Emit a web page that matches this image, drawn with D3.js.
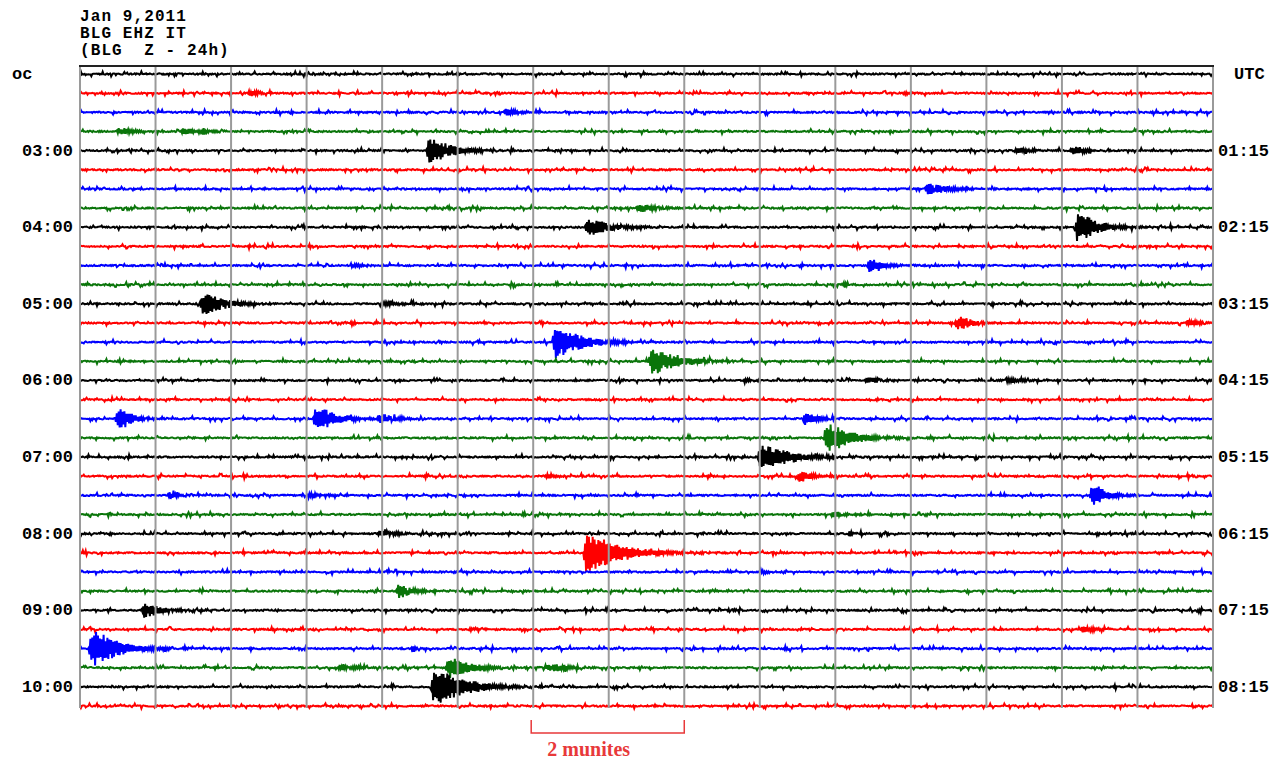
<!DOCTYPE html>
<html>
<head>
<meta charset="utf-8">
<script src="https://cdn.jsdelivr.net/npm/d3@7/dist/d3.min.js"></script>
<style>
  body { margin: 0; background: #fff; }
  .hdr { font-family: "Liberation Mono", monospace; font-weight: bold; font-size: 16px; letter-spacing: 1.1px; }
  .tlabel { font-family: "Liberation Mono", monospace; font-weight: bold; font-size: 17px; }
</style>
</head>
<body>
<div id="chart"></div>
<script>
// ---- data ----
const headerLines = ['Jan 9,2011', 'BLG EHZ IT', '(BLG  Z - 24h)'];
const traceColors = ['#000000', '#ff0000', '#0000ff', '#0a750a'];
const rowCount = 34;            // 15-minute lines
const minutesPerRow = 15;
const labelRows = [4, 8, 12, 16, 20, 24, 28, 32];
const localTimes = ['03:00', '04:00', '05:00', '06:00', '07:00', '08:00', '09:00', '10:00'];
const utcTimes = ['01:15', '02:15', '03:15', '04:15', '05:15', '06:15', '07:15', '08:15'];

// [row, start minute, peak amplitude (px), decay minutes]
const events = [
  [0, 4.98, 2, 0.08],
  [1, 2.22, 3, 0.15], [1, 10.9, 2, 0.08],
  [2, 5.62, 3, 0.2],
  [3, 0.5, 4, 0.2], [3, 1.35, 3, 0.25],
  [4, 4.6, 13, 0.3], [4, 12.38, 3, 0.2], [4, 13.12, 4, 0.2],
  [6, 11.2, 6, 0.3],
  [7, 7.38, 4, 0.25],
  [8, 6.7, 10, 0.3], [8, 13.18, 14, 0.3],
  [10, 3.62, 2, 0.2], [10, 10.43, 7, 0.2],
  [11, 10.1, 3, 0.06],
  [12, 1.6, 12, 0.3], [12, 4.0, 2, 0.3],
  [13, 3.58, 3, 0.05], [13, 11.6, 7, 0.25], [13, 14.65, 3, 0.2],
  [14, 6.27, 16, 0.38],
  [15, 7.54, 14, 0.38],
  [16, 8.78, 2, 0.1], [16, 10.4, 3, 0.2], [16, 12.25, 3, 0.2],
  [18, 0.48, 11, 0.2], [18, 3.1, 12, 0.3], [18, 3.95, 4, 0.25], [18, 9.58, 6, 0.2],
  [19, 9.86, 15, 0.35],
  [20, 8.98, 13, 0.4],
  [21, 6.15, 2, 0.2], [21, 9.5, 6, 0.2],
  [22, 1.16, 4, 0.15], [22, 3.03, 3, 0.15], [22, 13.38, 11, 0.2],
  [23, 5.85, 4, 0.04], [23, 9.95, 3, 0.2],
  [24, 3.95, 4, 0.25], [24, 10.18, 3, 0.06],
  [25, 6.68, 19, 0.48],
  [26, 9.02, 2, 0.1],
  [27, 4.2, 7, 0.2],
  [28, 0.83, 8, 0.25], [28, 8.58, 3, 0.06],
  [29, 5.15, 2, 0.15], [29, 13.25, 3, 0.2],
  [30, 0.13, 19, 0.38], [30, 4.4, 4, 0.05],
  [31, 3.42, 3, 0.25], [31, 4.86, 11, 0.32], [31, 6.18, 5, 0.25],
  [32, 4.66, 19, 0.42]
];

// ---- layout ----
const width = 1287, height = 760;
const svg = d3.select('#chart').append('svg')
    .attr('width', width)
    .attr('height', height);

const x = d3.scaleLinear().domain([0, minutesPerRow]).range([80, 1213]);
const y = d3.scaleLinear().domain([0, rowCount - 1]).range([74, 706]);
const amp = d3.scaleLinear().domain([-1, 1]).range([1, -1]); // px offset, up is negative

// deterministic jitter used for the trace texture
function jitter(a, b) {
  const s = Math.sin(a * 127.1 + b * 311.7) * 43758.5453;
  return (s - Math.floor(s)) * 2 - 1;
}

const step = 0.0125;
const samples = d3.range(0, minutesPerRow + step / 2, step);

function traceValues(row) {
  const evs = events.filter(e => e[0] === row);
  return samples.map((m, i) => {
    let v = jitter(row, i) * 0.7;
    const sp = jitter(i, row + 0.37);
    if (sp > 0.84) v += 1.8 * Math.sign(jitter(row + 5.1, i));
    evs.forEach(e => {
      const t = m - e[1];
      if (t < -0.02 || t > e[3] * 7) return;
      const hold = e[3] * 0.6;
      let env;
      if (t < 0.02) env = e[2] * Math.max(0, (t + 0.02) / 0.04);
      else if (t < hold) env = e[2] * (1 - 0.35 * (t - 0.02) / hold);
      else env = e[2] * 0.65 * Math.exp(-(t - hold) / (e[3] * 0.85));
      const k = (i % 2 ? 1 : -1) * (0.5 + 0.5 * Math.abs(jitter(i + 0.5, row * 3.3)));
      v += env * k;
    });
    return v;
  });
}

const line = d3.line()
    .x((d, i) => x(samples[i]))
    .y(d => amp(d));

const traces = svg.append('g').attr('class', 'traces');
d3.range(rowCount).forEach(row => {
  const vals = traceValues(row);
  traces.append('path')
      .attr('transform', `translate(0,${y(row)})`)
      .attr('d', line(vals))
      .attr('fill', 'none')
      .attr('stroke', traceColors[row % 4])
      .attr('stroke-width', 2)
      .attr('stroke-linejoin', 'miter');
});

// grid on top, as in the original plot
const grid = svg.append('g').attr('class', 'grid');
grid.selectAll('line.v')
    .data(d3.range(0, minutesPerRow + 1))
  .join('line')
    .attr('class', 'v')
    .attr('x1', d => x(d)).attr('x2', d => x(d))
    .attr('y1', 66).attr('y2', 708)
    .attr('stroke', '#9a9a9a')
    .attr('stroke-width', 2);
grid.append('line')
    .attr('x1', x(0) - 1).attr('x2', x(minutesPerRow) + 1)
    .attr('y1', 66).attr('y2', 66)
    .attr('stroke', '#222')
    .attr('stroke-width', 2);

// header
svg.append('g').selectAll('text')
    .data(headerLines)
  .join('text')
    .attr('class', 'hdr')
    .attr('x', 80)
    .attr('y', (d, i) => 21 + i * 17)
    .attr('xml:space', 'preserve')
    .style('white-space', 'pre')
    .text(d => d);

// side labels
svg.append('text').attr('class', 'tlabel')
    .attr('x', 12).attr('y', y(0) + 5).text('oc');
svg.append('text').attr('class', 'tlabel')
    .attr('x', 1234).attr('y', y(0) + 5).text('UTC');

svg.append('g').selectAll('text')
    .data(localTimes)
  .join('text')
    .attr('class', 'tlabel')
    .attr('x', 73)
    .attr('text-anchor', 'end')
    .attr('y', (d, i) => y(labelRows[i]) + 5)
    .text(d => d);

svg.append('g').selectAll('text')
    .data(utcTimes)
  .join('text')
    .attr('class', 'tlabel')
    .attr('x', 1218)
    .attr('y', (d, i) => y(labelRows[i]) + 5)
    .text(d => d);

// 2-minute scale bracket
const bracket = svg.append('g');
bracket.append('path')
    .attr('d', `M${x(6) - 2},720 V733 H${x(8)} V720`)
    .attr('fill', 'none')
    .attr('stroke', '#e8393a')
    .attr('stroke-width', 1.5);
bracket.append('text')
    .attr('x', (x(6) + x(8)) / 2 - 20)
    .attr('y', 756)
    .attr('text-anchor', 'middle')
    .style('font-family', '"Liberation Serif", serif')
    .style('font-weight', 'bold')
    .style('font-size', '20px')
    .attr('fill', '#e8393a')
    .text('2 munites');
</script>
</body>
</html>
